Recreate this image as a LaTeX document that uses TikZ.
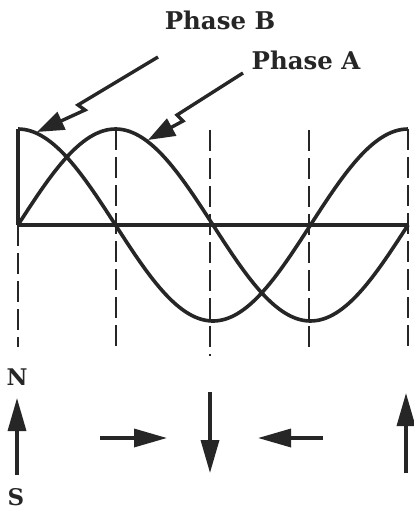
\documentclass[tikz,border=0pt]{standalone}
\usepackage{fontspec}
\newfontfamily\labelfont{DejaVu Serif}[BoldFont={DejaVu Serif Bold}]
\usetikzlibrary{arrows.meta}
\definecolor{ink}{RGB}{38,38,38}
\tikzset{
  curve/.style={line width=3.6bp, ink},
  axisline/.style={line width=3.4bp, ink},
  guide/.style={line width=2.8bp, ink, dash pattern=on 21bp off 7bp},
  bigarrow/.style={line width=3.4bp, ink, -{Triangle[length=33bp,width=18bp]}},
  leader/.style={line width=3.4bp, ink, line join=miter, -{Triangle[length=27bp,width=19bp]}},
  lbl/.style={font=\labelfont\bfseries\fontsize{24.5}{28}\selectfont, text=ink, inner sep=0pt},
  pole/.style={font=\labelfont\bfseries\fontsize{23}{26}\selectfont, text=ink, inner sep=0pt}
}
\begin{document}
\begin{tikzpicture}[x=1bp,y=-1bp]
\useasboundingbox[fill=white] (0,0) rectangle (413,510);

% labels
\node[lbl] (pb) at (220,20) {Phase B};
\node[lbl] (pa) at (306,60) {Phase A};

% guides
\coordinate (g0t) at (18,225); \coordinate (g0b) at (18,347);
\coordinate (g1t) at (116,129); \coordinate (g1b) at (116,353);
\coordinate (g2t) at (210,130); \coordinate (g2b) at (210,356);
\coordinate (g3t) at (309,130); \coordinate (g3b) at (309,353);
\coordinate (g4t) at (408,129); \coordinate (g4b) at (408,353);
\draw[guide] (g0t) -- (g0b);
\draw[guide] (g1t) -- (g1b);
\draw[guide] (g2t) -- (g2b);
\draw[guide] (g3t) -- (g3b);
\draw[guide] (g4t) -- (g4b);

% axis and left edge
\coordinate (o) at (18,225);
\coordinate (e) at (408,225);
\coordinate (ltop) at (18,129);
\draw[axisline] (o) -- (e);
\draw[axisline] (o) -- (ltop);

% waves
\draw[curve] plot[domain=18:408, samples=120] (\x, {225-96*sin(0.923077*(\x-18))});
\draw[curve] plot[domain=18:408, samples=120] (\x, {225-96*cos(0.923077*(\x-18))});

% leader arrows
\coordinate (bs) at (158,57);
\coordinate (bj1) at (78,105);
\coordinate (bj2) at (85,110);
\coordinate (bt) at (37,132);
\draw[leader] (bs) -- (bj1) -- (bj2) -- (bt);
\coordinate (as) at (243,73);
\coordinate (aj1) at (177,115);
\coordinate (aj2) at (183,121);
\coordinate (at) at (148,140);
\draw[leader] (as) -- (aj1) -- (aj2) -- (at);

% pole labels and field arrows
\node[pole] (n) at (17,377) {N};
\node[pole] (s) at (16,497) {S};
\coordinate (a1s) at (17,475); \coordinate (a1e) at (17,398);
\coordinate (a2s) at (100,438); \coordinate (a2e) at (167,438);
\coordinate (a3s) at (210,392); \coordinate (a3e) at (210,473);
\coordinate (a4s) at (323,438); \coordinate (a4e) at (258,438);
\coordinate (a5s) at (406,473); \coordinate (a5e) at (406,393);
\draw[bigarrow] (a1s) -- (a1e);
\draw[bigarrow] (a2s) -- (a2e);
\draw[bigarrow] (a3s) -- (a3e);
\draw[bigarrow] (a4s) -- (a4e);
\draw[bigarrow] (a5s) -- (a5e);
\end{tikzpicture}
\end{document}
